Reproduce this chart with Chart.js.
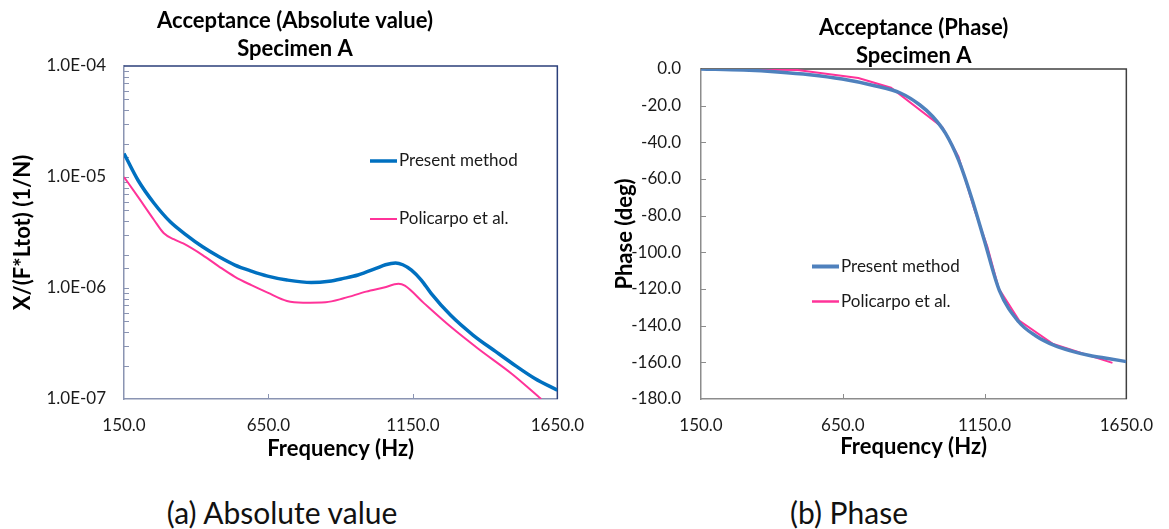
<!DOCTYPE html>
<html lang="en">
<head>
  <meta charset="UTF-8">
  <title>Acceptance - Specimen A</title>
  <script src="https://cdn.jsdelivr.net/npm/chart.js@4"></script>
  <style>
    body { margin: 0; background: #fff; font-family: Lato, 'DejaVu Sans', sans-serif; }
    #wrap { position: relative; width: 1169px; height: 529px; overflow: hidden; background: #fff; }
    canvas { position: absolute; top: 0; }
    #absChart { left: 0; }
    #phaseChart { left: 600px; }
    .caption {
      position: absolute; top: 496px; font-size: 30px; line-height: 32px;
      color: #111; white-space: nowrap; transform: translateX(-50%);
    }
  </style>
</head>
<body>
  <div id="wrap">
    <canvas id="absChart" width="600" height="470"></canvas>
    <canvas id="phaseChart" width="569" height="470"></canvas>
    <div class="caption" style="left:282px">(a) Absolute value</div>
    <div class="caption" style="left:849px">(b) Phase</div>
  </div>

  <script>
    // (a) absolute value of acceptance, 1/N
    const absFreqPresent = [150, 198, 254, 310, 366, 422, 479, 534, 591, 647, 714, 798, 860, 910, 960, 1022, 1055, 1090, 1115, 1145, 1179, 1213, 1280, 1358, 1437, 1493, 1572, 1650];
    const absPresent = [1.63e-5, 9.4e-6, 5.8e-6, 3.95e-6, 3.0e-6, 2.35e-6, 1.91e-6, 1.61e-6, 1.42e-6, 1.28e-6, 1.18e-6, 1.12e-6, 1.15e-6, 1.22e-6, 1.31e-6, 1.50e-6, 1.62e-6, 1.68e-6, 1.62e-6, 1.45e-6, 1.18e-6, 8.95e-7, 5.7e-7, 3.77e-7, 2.67e-7, 2.1e-7, 1.53e-7, 1.2e-7];
    const absFreqPolicarpo = [150, 198, 254, 288, 322, 355, 422, 479, 534, 591, 647, 714, 770, 848, 910, 988, 1050, 1100, 1122, 1189, 1280, 1375, 1493, 1594];
    const absPolicarpo = [1.0e-5, 6.65e-6, 4.1e-6, 3.11e-6, 2.75e-6, 2.52e-6, 1.98e-6, 1.56e-6, 1.26e-6, 1.06e-6, 9.08e-7, 7.64e-7, 7.38e-7, 7.45e-7, 8.07e-7, 9.27e-7, 1.01e-6, 1.09e-6, 1.05e-6, 7.27e-7, 4.49e-7, 2.85e-7, 1.68e-7, 1.0e-7];

    // (b) phase, deg
    const phaseFreqPresent = [150, 300, 420, 534, 648, 762, 853, 921, 967, 1012, 1058, 1103, 1149, 1202, 1271, 1330, 1396, 1460, 1521, 1590, 1650];
    const phasePresent = [0, -0.6, -1.6, -3.1, -5.5, -9.1, -13.1, -19.5, -25.9, -35, -49.6, -69.7, -93.4, -120.7, -138, -145.5, -150.8, -154, -156.3, -158, -159.6];
    const phaseFreqPolicarpo = [150, 490, 705, 820, 1001, 1058, 1115, 1160, 1200, 1272, 1392, 1601];
    const phasePolicarpo = [0, -0.6, -4.9, -10.2, -31.7, -47.8, -77, -97, -119.7, -137.2, -150, -160.3];

    const seriesNames = ['Present method', 'Policarpo et al.'];
    const freqTicks = { min: 150, max: 1650, step: 500 };
    const phaseTicks = { min: -180, max: 0, step: 20 };

    Chart.defaults.font.family = "Lato, 'DejaVu Sans', sans-serif";
    Chart.defaults.color = '#1a1a1a';

    const toPoints = (xs, ys) => xs.map((x, i) => ({ x, y: ys[i] }));

    function sciLabel(v) {
      const e = Math.floor(Math.log10(v) + 1e-9);
      const m = v / Math.pow(10, e);
      if (Math.abs(m - 1) > 1e-6) return '';
      const sign = e < 0 ? '-' : '+';
      return '1.0E' + sign + String(Math.abs(e)).padStart(2, '0');
    }

    // spreadsheet style: tick marks inside the plot, darker top/right frame
    const frameAndTicks = {
      id: 'frameAndTicks',
      beforeDatasetsDraw(chart, args, opts) {
        const { ctx, chartArea: a, scales } = chart;
        ctx.save();
        ctx.lineWidth = 1;
        ctx.strokeStyle = opts.tickColor;
        ctx.beginPath();
        scales.x.ticks.forEach(t => {
          const px = Math.round(scales.x.getPixelForValue(t.value)) + 0.5;
          if (px < a.left + 2 || px > a.right - 2) return;
          ctx.moveTo(px, a.bottom);
          ctx.lineTo(px, a.bottom - opts.tickLen);
        });
        scales.y.ticks.forEach(t => {
          const py = Math.round(scales.y.getPixelForValue(t.value)) + 0.5;
          if (py < a.top + 2 || py > a.bottom - 2) return;
          ctx.moveTo(a.left, py);
          ctx.lineTo(a.left + opts.tickLen, py);
        });
        ctx.stroke();
        ctx.strokeStyle = opts.frameColor;
        ctx.lineWidth = opts.frameWidth;
        ctx.beginPath();
        ctx.moveTo(a.left, a.top);
        ctx.lineTo(a.right, a.top);
        ctx.lineTo(a.right, a.bottom);
        ctx.stroke();
        ctx.restore();
      }
    };

    // legend sitting inside the plot area
    const innerLegend = {
      id: 'innerLegend',
      afterDraw(chart, args, opts) {
        const { ctx, chartArea: a } = chart;
        ctx.save();
        ctx.font = opts.font;
        ctx.fillStyle = '#1a1a1a';
        ctx.textBaseline = 'middle';
        chart.data.datasets.forEach((ds, i) => {
          const x = a.left + opts.x;
          const y = a.top + opts.y + i * opts.rowGap;
          ctx.strokeStyle = ds.borderColor;
          ctx.lineWidth = opts.widths[i];
          ctx.beginPath();
          ctx.moveTo(x, y);
          ctx.lineTo(x + opts.lineLen, y);
          ctx.stroke();
          ctx.fillText(ds.label, x + opts.lineLen + 2, y);
        });
        ctx.restore();
      }
    };

    function xAxis(color, titlePadBottom) {
      return {
        type: 'linear',
        min: freqTicks.min,
        max: freqTicks.max,
        ticks: { stepSize: freqTicks.step, padding: 16, autoSkip: false, maxRotation: 0,
                 font: { size: 17 }, callback: v => Number(v).toFixed(1) },
        grid: { drawOnChartArea: false, drawTicks: false },
        border: { color, width: 1.5 },
        title: { display: true, text: 'Frequency (Hz)', color: '#000',
                 font: { size: 22, weight: 'bold', lineHeight: 1.2 },
                 padding: { top: 0, bottom: titlePadBottom } },
        afterFit: s => { s.height = 71; }
      };
    }

    new Chart(document.getElementById('absChart'), {
      type: 'line',
      data: {
        datasets: [
          { label: seriesNames[0], data: toPoints(absFreqPresent, absPresent),
            borderColor: '#0070C0', borderWidth: 3.5, pointRadius: 0, cubicInterpolationMode: 'monotone' },
          { label: seriesNames[1], data: toPoints(absFreqPolicarpo, absPolicarpo),
            borderColor: '#FF3399', borderWidth: 2, pointRadius: 0, cubicInterpolationMode: 'monotone' }
        ]
      },
      options: {
        responsive: false,
        animation: false,
        layout: { padding: { left: 20, right: 30, top: 0, bottom: 0 } },
        plugins: {
          legend: { display: false },
          tooltip: { enabled: false },
          title: { display: true, text: ['Acceptance (Absolute value)', 'Specimen A'], color: '#000',
                   font: { size: 22, weight: 'bold', lineHeight: 28 / 22 },
                   padding: { top: 7, bottom: 3 } },
          frameAndTicks: { tickColor: '#8A94B2', tickLen: 5, frameColor: '#2B3F7A', frameWidth: 1.5 },
          innerLegend: { x: 246, y: 95, rowGap: 58, lineLen: 27, widths: [3.5, 2], font: "17px Lato, 'DejaVu Sans', sans-serif" }
        },
        scales: {
          x: xAxis('#8A94B2', 8),
          y: {
            type: 'logarithmic',
            min: 1e-7,
            max: 1e-4,
            ticks: { padding: 18, autoSkip: false, font: { size: 17 }, callback: v => sciLabel(v) },
            grid: { drawOnChartArea: false, drawTicks: false },
            border: { color: '#8A94B2', width: 1.5 },
            title: { display: true, text: 'X/(F*Ltot) (1/N)', color: '#000',
                     font: { size: 22, weight: 'bold', lineHeight: 1.2 }, padding: { top: -10, bottom: 0 } },
            afterFit: s => { s.width = 104; }
          }
        }
      },
      plugins: [frameAndTicks, innerLegend]
    });

    new Chart(document.getElementById('phaseChart'), {
      type: 'line',
      data: {
        datasets: [
          { label: seriesNames[0], data: toPoints(phaseFreqPresent, phasePresent),
            borderColor: '#4F81BD', borderWidth: 3.5, pointRadius: 0, cubicInterpolationMode: 'monotone' },
          { label: seriesNames[1], data: toPoints(phaseFreqPolicarpo, phasePolicarpo),
            borderColor: '#FF3399', borderWidth: 2, pointRadius: 0, tension: 0 }
        ]
      },
      options: {
        responsive: false,
        animation: false,
        layout: { padding: { left: 0, right: 29, top: 0, bottom: 0 } },
        plugins: {
          legend: { display: false },
          tooltip: { enabled: false },
          title: { display: true, fullSize: false, text: ['Acceptance (Phase)', 'Specimen A'], color: '#000',
                   font: { size: 22, weight: 'bold', lineHeight: 28 / 22 },
                   padding: { top: 14, bottom: -1 } },
          frameAndTicks: { tickColor: '#8C8C8C', tickLen: 5, frameColor: '#404040', frameWidth: 1.5 },
          innerLegend: { x: 111, y: 197.5, rowGap: 35, lineLen: 27, widths: [4, 2.5], font: "17px Lato, 'DejaVu Sans', sans-serif" }
        },
        scales: {
          x: xAxis('#8C8C8C', 10),
          y: {
            type: 'linear',
            min: phaseTicks.min,
            max: phaseTicks.max,
            ticks: { stepSize: phaseTicks.step, padding: 20, autoSkip: false, font: { size: 17 },
                     callback: v => Number(v).toFixed(1) },
            grid: { drawOnChartArea: false, drawTicks: false },
            border: { color: '#8C8C8C', width: 1.5 },
            title: { display: true, text: 'Phase (deg)', color: '#000',
                     font: { size: 22, weight: 'bold', lineHeight: 1.2 }, padding: { top: 12, bottom: 0 } },
            afterFit: s => { s.width = 101; }
          }
        }
      },
      plugins: [frameAndTicks, innerLegend]
    });
  </script>
</body>
</html>
